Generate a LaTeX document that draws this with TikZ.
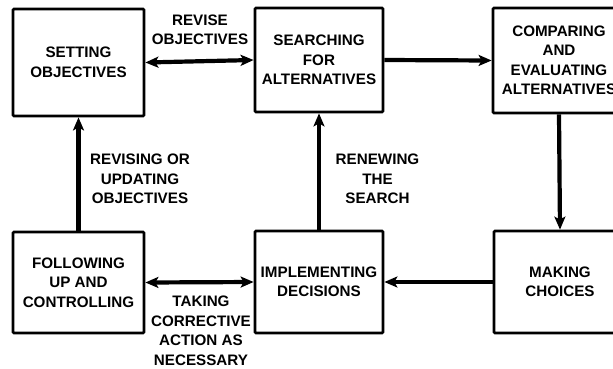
\documentclass[tikz,border=0pt]{standalone}
\usepackage{fontspec}
\setmainfont{Liberation Sans}
\usetikzlibrary{arrows.meta}
\begin{document}
\begin{tikzpicture}[x=1pt,y=-1pt,
  box/.style={draw,line width=2.8pt,rounded corners=1pt,inner sep=0pt,
    minimum width=#1,align=center,font=\fontsize{15.2}{19.5}\selectfont\bfseries},
  box/.default=131pt,
  lbl/.style={inner sep=0pt,align=center,font=\fontsize{15.2}{19.5}\selectfont\bfseries},
  flow/.style={line width=4.2pt,-{Stealth[length=13pt,width=11pt,inset=3pt]}},
  both/.style={line width=4.2pt,{Stealth[length=13pt,width=11pt,inset=3pt]}-{Stealth[length=13pt,width=11pt,inset=3pt]}}]
\useasboundingbox (0,0) rectangle (613,368);
% top row
\node[box=131pt,minimum height=107pt] (set) at (78.5,62.5) {SETTING\\OBJECTIVES};
\node[box=128pt,minimum height=104pt] (search) at (319,60) {SEARCHING\\FOR\\ALTERNATIVES};
\node[box=132pt,minimum height=105pt] (compare) at (559,60.5) {COMPARING\\AND\\EVALUATING\\ALTERNATIVES};
% bottom row
\node[box=131pt,minimum height=101pt] (follow) at (78.5,282.5) {FOLLOWING\\UP AND\\CONTROLLING};
\node[box=128pt,minimum height=102pt] (implement) at (319,282) {IMPLEMENTING\\DECISIONS};
\node[box=132pt,minimum height=102pt] (choose) at (560,282) {MAKING\\CHOICES};
% connectors
\draw[both] (set.east) -- (search.west);
\draw[flow] (search.east) -- (compare.west);
\draw[flow] (compare.south) -- (choose.north);
\draw[flow] (choose.west) -- (implement.east);
\draw[both] (follow.east) -- (implement.west);
\draw[flow] (follow.north) -- (set.south);
\draw[flow] (implement.north) -- (search.south);
% connector labels
\node[lbl] (revise) at (200,30) {REVISE\\OBJECTIVES};
\node[lbl] (update) at (140,179) {REVISING OR\\UPDATING\\OBJECTIVES};
\node[lbl] (renew) at (377.5,179) {RENEWING\\THE\\SEARCH};
\node[lbl] (correct) at (201,331) {TAKING\\CORRECTIVE\\ACTION AS\\NECESSARY};
\end{tikzpicture}
\end{document}
